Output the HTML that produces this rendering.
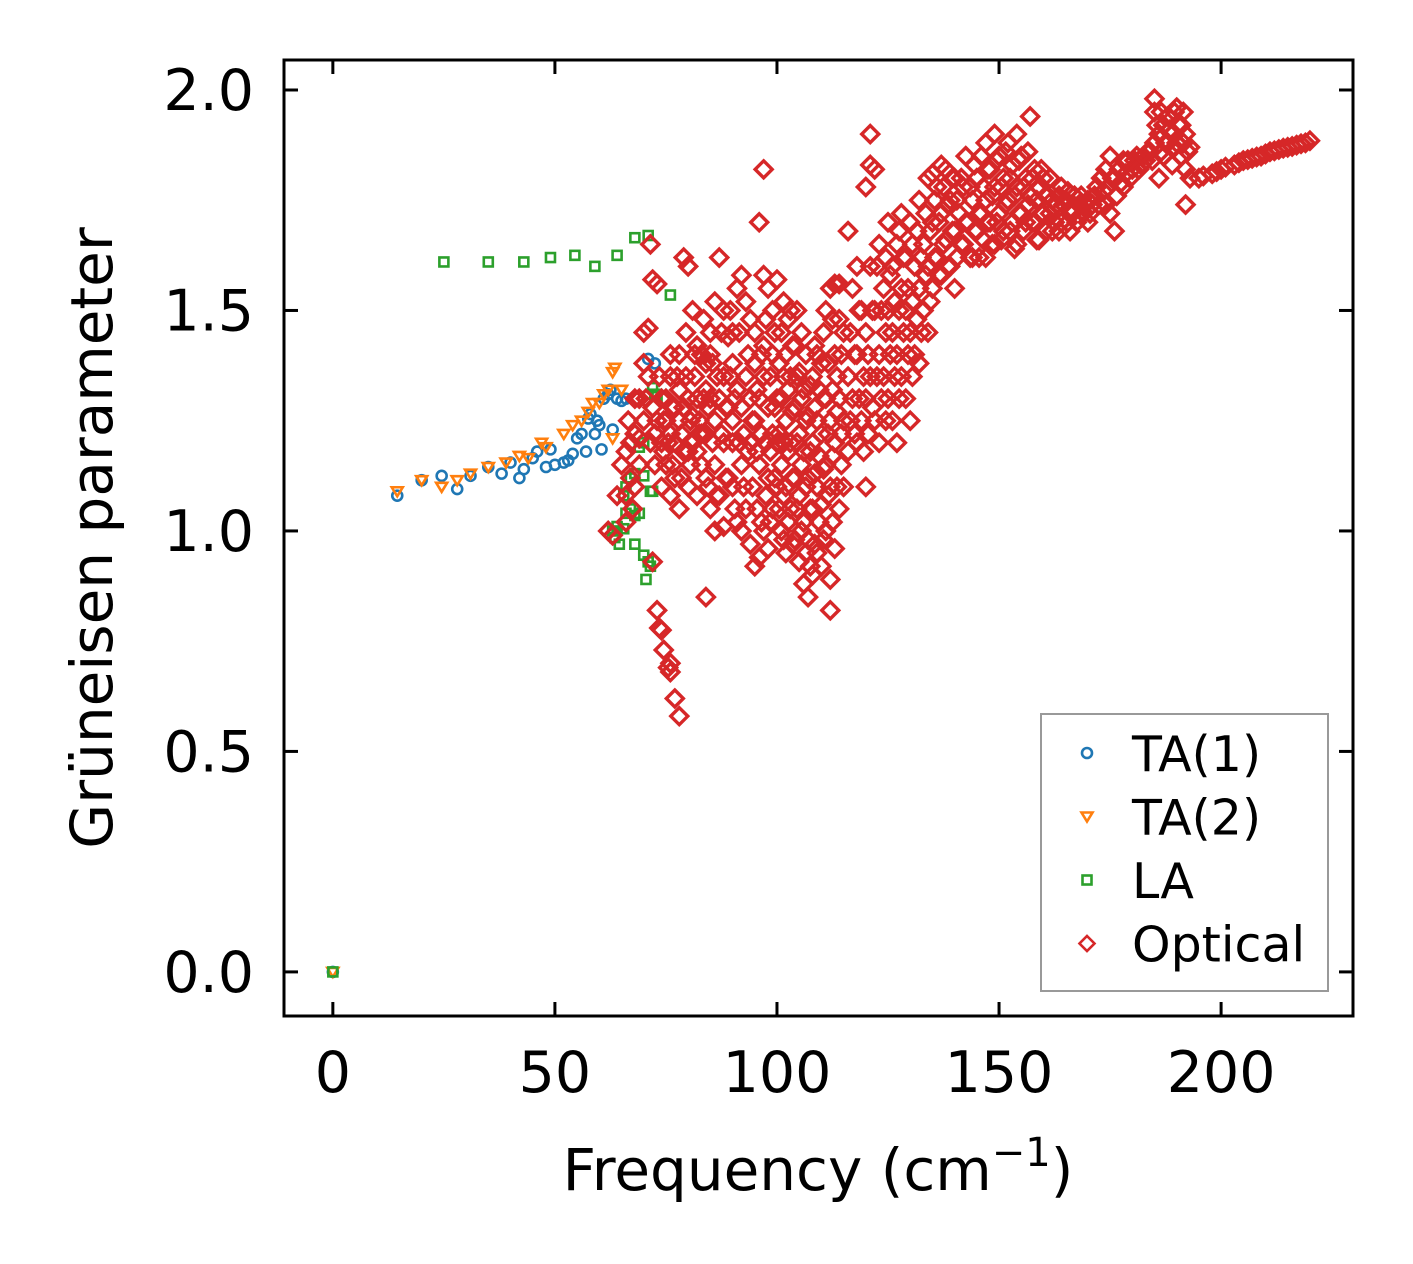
<!DOCTYPE html>
<html><head><meta charset="utf-8"><style>
body{margin:0;background:#fff}
svg{display:block;font-family:"DejaVu Sans","Liberation Sans",sans-serif}
</style></head><body>
<svg id="chart" width="1413" height="1264" viewBox="0 0 1413 1264">
<g id="marks"></g>
<rect x="284" y="60" width="1069" height="956" fill="none" stroke="#000" stroke-width="3"/>
<g id="axes"></g>
<text x="112" y="538" font-size="58" text-anchor="middle" transform="rotate(-90 112 538)">Grüneisen parameter</text>
<text x="818" y="1190" font-size="58" text-anchor="middle">Frequency (cm<tspan dy="-24" font-size="40">−1</tspan><tspan dy="24">)</tspan></text>
<g>
<rect x="1041" y="714" width="287" height="277" fill="#fff" stroke="#999" stroke-width="2"/>
<g id="legend"></g>
</g>
</svg>
<script>
const xTicks=[0,50,100,150,200];
const yTicks=[0.0,0.5,1.0,1.5,2.0];
const yTickLabels=["0.0","0.5","1.0","1.5","2.0"];
const ta1=[[0,0],[14.5,1.08],[20,1.115],[24.5,1.125],[28,1.095],[31,1.125],[35,1.145],[38,1.13],[40,1.155],[42,1.12],[43,1.14],[45,1.165],[46,1.18],[48,1.145],[49,1.185],[50,1.15],[52,1.155],[53,1.16],[54,1.175],[55,1.21],[56,1.22],[57,1.18],[57.5,1.255],[58,1.265],[59,1.22],[59.5,1.25],[60,1.24],[60.5,1.185],[61,1.3],[62,1.31],[62.5,1.32],[63,1.23],[64,1.3],[65,1.295],[66,1.3],[71,1.39],[72.5,1.38]];
const ta2=[[0,0],[14.5,1.09],[20,1.115],[24.5,1.10],[28,1.115],[31,1.13],[35,1.145],[39,1.155],[42,1.17],[44,1.165],[47,1.2],[48,1.19],[52,1.22],[54,1.24],[56,1.25],[57.5,1.27],[58.5,1.29],[60,1.29],[61,1.31],[62,1.32],[63,1.36],[63.5,1.37],[63,1.21],[65,1.32]];
const la=[[0,0],[25,1.61],[35,1.61],[43,1.61],[49,1.62],[54.5,1.625],[59,1.6],[64,1.625],[68,1.665],[71,1.67],[72.5,1.31],[73,1.305],[72,1.325],[76,1.535],[70,1.2],[69,1.19],[70,1.125],[68,1.13],[67,1.12],[66,1.1],[65.5,1.08],[66,1.04],[67,1.05],[68,1.035],[69,1.04],[64,1.01],[63,1.0],[63.5,0.985],[64.5,0.97],[65.5,1.005],[68,0.97],[70,0.945],[71,0.93],[71.5,0.92],[70.5,0.89],[71.5,1.09],[72,1.09]];
const optical=[[72,0.93],[73,0.82],[73.5,0.78],[74,0.775],[74.5,0.73],[75.5,0.69],[76,0.68],[77,0.62],[78,0.58],[76,0.7],[84,0.85],[97,1.82],[121,1.9],[192,1.74],[185,1.98],
[195,1.80],[196,1.805],[198,1.81],[199,1.815],[200,1.82],[201,1.825],[203,1.83],[204,1.835],[205,1.84],[206,1.842],[207,1.845],[208,1.848],[209,1.85],[210,1.855],[211,1.86],[212,1.862],[213,1.865],[214,1.868],[215,1.87],[216,1.872],[217,1.875],[218,1.878],[219,1.88],[220,1.885],
[62,1.0],[63,0.99],[64,1.08],[65,1.15],[66,1.18],[67,1.2],[68,1.3],[69,1.3],[70,1.25],[66,1.02],[68,1.1],[69,1.21],[70,1.45],[71,1.46],[71.5,1.65],[72,1.57],[73,1.56],[70,1.38],[71,1.35],[72,1.28],[73,1.25],[74,1.2],[75,1.3],[76,1.35],[77,1.28],[78,1.32],[79,1.62],[80,1.6],[81,1.5],[82,1.42],[83,1.4],[84,1.38],[85,1.45],[86,1.52],[87,1.62],[88,1.5],[89,1.44],[90,1.38],[91,1.55],[92,1.58],[93,1.52],[94,1.48],[95,1.45],[96,1.7],[97,1.58],[98,1.55],[99,1.5],[100,1.57],
[74,1.1],[75,1.15],[76,1.08],[77,1.12],[78,1.05],[79,1.18],[80,1.1],[81,1.2],[82,1.08],[83,1.15],[84,1.22],[85,1.05],[86,1.0],[87,1.08],[88,1.01],[89,1.12],[90,1.2],[91,1.02],[92,1.0],[93,1.05],[94,0.97],[95,0.92],[96,0.94],[97,1.0],[98,0.96],[99,1.05],[100,1.1],
[74,1.3],[75,1.25],[76,1.22],[77,1.2],[78,1.25],[79,1.28],[80,1.3],[81,1.26],[82,1.3],[83,1.22],[84,1.32],[85,1.3],[86,1.25],[87,1.3],[88,1.35],[89,1.28],[90,1.25],[91,1.32],[92,1.28],[93,1.35],[94,1.3],[95,1.25],[96,1.3],[97,1.35],[98,1.28],[99,1.22],[100,1.3],[76,1.4],[78,1.4],[80,1.18],[82,1.18],[84,1.12],[86,1.15],[88,1.2],[90,1.1],[92,1.15],[94,1.2],[96,1.15],[98,1.12],[100,1.2],[85,1.4],[90,1.45],[95,1.38],[97,1.42],[99,1.4],
[101,1.0],[101,1.15],[101,1.3],[101,1.45],[102,0.95],[102,1.1],[102,1.25],[102,1.4],[103,1.05],[103,1.2],[103,1.35],[103,1.5],[104,0.98],[104,1.12],[104,1.28],[104,1.42],[105,0.93],[105,1.08],[105,1.22],[105,1.36],[106,0.88],[106,1.02],[106,1.18],[106,1.32],[107,0.85],[107,0.98],[107,1.12],[107,1.26],[108,0.9],[108,1.05],[108,1.2],[108,1.35],[109,0.95],[109,1.1],[109,1.25],[109,1.4],[110,0.92],[110,1.06],[110,1.22],[110,1.38],[111,1.0],[111,1.15],[111,1.3],[111,1.5],[112,0.82],[112,0.89],[112,1.1],[112,1.25],[112,1.55],[113,0.96],[113,1.2],[113,1.4],[114,1.05],[114,1.3],[114,1.48],[115,1.1],[115,1.25],[115,1.45],[113,1.56],[114,1.56],
[116,1.68],[116,1.35],[116,1.18],[117,1.55],[117,1.3],[118,1.4],[118,1.2],[118,1.6],[119,1.25],[119,1.5],[120,1.1],[120,1.3],[120,1.45],[120,1.78],[121,1.83],[121,1.6],[121,1.35],[122,1.82],[122,1.5],[122,1.25],[123,1.65],[123,1.4],[123,1.2],[124,1.55],[124,1.35],[125,1.7],[125,1.5],[125,1.3],[126,1.6],[126,1.45],[126,1.25],[127,1.65],[127,1.4],[127,1.2],[128,1.55],[128,1.35],[128,1.72],[129,1.5],[129,1.3],[129,1.62],[130,1.7],[130,1.45],[130,1.25],[131,1.6],[131,1.4],[132,1.75],[132,1.55],[132,1.38],[133,1.65],[133,1.5],[134,1.8],[134,1.6],[134,1.45],[135,1.7],[135,1.55],[135,1.81],[136,1.78],[136,1.62],[137,1.72],[137,1.58],[137,1.83],[138,1.82],[138,1.66],[139,1.75],[139,1.6],[140,1.8],[140,1.68],[140,1.55],
[141,1.72],[142,1.78],[142,1.65],[143,1.7],[144,1.75],[144,1.62],[145,1.8],[145,1.68],[146,1.85],[146,1.72],[147,1.88],[147,1.75],[147,1.62],[148,1.82],[148,1.7],[149,1.9],[149,1.78],[149,1.65],[150,1.85],[150,1.72],[151,1.8],[151,1.68],[152,1.88],[152,1.75],[153,1.83],[153,1.7],[154,1.9],[154,1.78],[154,1.65],[155,1.85],[155,1.72],[156,1.8],[156,1.7],[157,1.94],[157,1.76],[158,1.82],[158,1.7],[159,1.78],[159,1.66],[160,1.8],[160,1.72],[161,1.76],[162,1.75],[162,1.68],[163,1.74],[164,1.78],[164,1.7],[165,1.75],[166,1.73],[166,1.68],[167,1.76],[168,1.74],[169,1.72],[170,1.75],[170,1.7],[171,1.74],[172,1.78],[173,1.8],[174,1.82],[174,1.74],[175,1.85],[175,1.72],[176,1.8],[176,1.68],[177,1.82],[178,1.78],[178,1.84],[179,1.84],[180,1.82],[181,1.85],[182,1.83],[183,1.84],[184,1.86],[185,1.88],[185,1.95],[186,1.9],[186,1.8],[187,1.92],[187,1.85],[188,1.94],[188,1.88],[189,1.9],[189,1.83],[190,1.96],[190,1.88],[191,1.92],[191,1.85],[192,1.9],[192,1.82],[193,1.8],[193,1.87],
[100.5,1.05],[100.5,1.22],[100.5,1.38],[101.5,0.98],[101.5,1.08],[101.5,1.2],[101.5,1.35],[101.5,1.52],[102.5,1.02],[102.5,1.18],[102.5,1.32],[102.5,1.48],[103.5,0.97],[103.5,1.12],[103.5,1.27],[103.5,1.42],[104.5,1.05],[104.5,1.2],[104.5,1.35],[104.5,1.5],[105.5,1.0],[105.5,1.15],[105.5,1.3],[105.5,1.45],[106.5,0.95],[106.5,1.1],[106.5,1.25],[106.5,1.4],[107.5,0.92],[107.5,1.05],[107.5,1.18],[107.5,1.33],[108.5,0.97],[108.5,1.13],[108.5,1.28],[108.5,1.42],[109.5,1.02],[109.5,1.17],[109.5,1.32],[110.5,0.98],[110.5,1.14],[110.5,1.3],[110.5,1.45],[111.5,1.08],[111.5,1.22],[111.5,1.38],[112.5,1.02],[112.5,1.17],[112.5,1.32],[112.5,1.48],[113.5,1.1],[113.5,1.27],[113.5,1.35],[114.5,1.15],[114.5,1.22],[114.5,1.4],
[92.5,1.1],[92.5,1.22],[93.5,1.18],[93.5,1.4],[94.5,1.1],[94.5,1.25],[95.5,1.05],[95.5,1.18],[95.5,1.32],[96.5,1.02],[96.5,1.22],[96.5,1.4],[97.5,1.08],[97.5,1.2],[97.5,1.48],[98.5,1.02],[98.5,1.18],[98.5,1.35],[99.5,1.12],[99.5,1.28],[99.5,1.45],
[116.5,1.25],[116.5,1.45],[117.5,1.22],[117.5,1.4],[118.5,1.3],[118.5,1.5],[119.5,1.35],[119.5,1.18],[120.5,1.22],[120.5,1.4],[121.5,1.28],[121.5,1.5],[122.5,1.35],[122.5,1.6],[123.5,1.3],[123.5,1.5],[124.5,1.25],[124.5,1.45],[124.5,1.62],[125.5,1.4],[125.5,1.58],[126.5,1.35],[126.5,1.52],[127.5,1.3],[127.5,1.5],[127.5,1.68],[128.5,1.45],[128.5,1.62],[129.5,1.4],[129.5,1.55],[130.5,1.35],[130.5,1.52],[130.5,1.65],[131.5,1.48],[131.5,1.68],[132.5,1.45],[132.5,1.62],[133.5,1.58],[133.5,1.72],[134.5,1.52],[134.5,1.68],[135.5,1.62],[135.5,1.75],[136.5,1.58],[136.5,1.7],[137.5,1.65],[137.5,1.78],[138.5,1.6],[138.5,1.74],[139.5,1.68],[139.5,1.8],
[140.5,1.62],[140.5,1.75],[141.5,1.65],[141.5,1.8],[142.5,1.7],[142.5,1.85],[143.5,1.62],[143.5,1.78],[144.5,1.68],[144.5,1.83],[145.5,1.72],[145.5,1.62],[146.5,1.66],[146.5,1.78],[147.5,1.7],[147.5,1.82],[148.5,1.65],[148.5,1.76],[149.5,1.7],[149.5,1.84],[150.5,1.66],[150.5,1.78],[151.5,1.74],[151.5,1.86],[152.5,1.68],[152.5,1.8],[153.5,1.76],[153.5,1.64],[154.5,1.72],[154.5,1.84],[155.5,1.68],[155.5,1.78],[156.5,1.74],[156.5,1.86],[157.5,1.7],[157.5,1.8],[158.5,1.75],[158.5,1.66],[159.5,1.72],[159.5,1.82],[160.5,1.68],[160.5,1.76],[161.5,1.72],[161.5,1.8],[162.5,1.7],[163.5,1.68],[163.5,1.76],[164.5,1.74],[165.5,1.7],[165.5,1.77],[166.5,1.72],[167.5,1.7],[168.5,1.76],[169.5,1.74],
[170.5,1.72],[171.5,1.76],[172.5,1.74],[173.5,1.77],[174.5,1.78],[175.5,1.8],[176.5,1.76],[177.5,1.79],[178.5,1.81],[179.5,1.8],[180.5,1.84],[181.5,1.82],[182.5,1.85],[183.5,1.86],[184.5,1.84],[185.5,1.92],[186.5,1.86],[186.5,1.95],[187.5,1.88],[188.5,1.91],[189.5,1.87],[189.5,1.95],[190.5,1.92],[191.5,1.88],[191.5,1.95],[192.5,1.86],
[70.5,1.3],[71.5,1.2],[72.5,1.22],[73.5,1.35],[74.5,1.25],[75.5,1.2],[76.5,1.28],[77.5,1.35],[78.5,1.22],[79.5,1.35],[80.5,1.25],[81.5,1.35],[82.5,1.25],[83.5,1.3],[84.5,1.28],[85.5,1.2],[86.5,1.35],[87.5,1.22],[88.5,1.28],[89.5,1.35],[90.5,1.3],[91.5,1.2],[72.5,1.15],[74.5,1.18],[76.5,1.15],[78.5,1.12],[80.5,1.15],[82.5,1.22],[84.5,1.1],[86.5,1.08],[88.5,1.12],[90.5,1.05],[79.5,1.45],[81.5,1.4],[83.5,1.48],[85.5,1.38],[87.5,1.45],[89.5,1.5],[91.5,1.45],[66,1.08],[67,1.12],[68,1.22],[69,1.15],[66.5,1.25],[67.5,1.05]];

const NS="http://www.w3.org/2000/svg";
const X0=284,X1=1353,Y0=60,Y1=1016,xmin=-11,xmax=229.7,ymin=-0.1,ymax=2.068;
function sx(v){return X0+(v-xmin)/(xmax-xmin)*(X1-X0);}
function sy(v){return Y1-(v-ymin)/(ymax-ymin)*(Y1-Y0);}
function mk(tag,attrs,parent){const e=document.createElementNS(NS,tag);for(const k in attrs)e.setAttribute(k,attrs[k]);parent.appendChild(e);return e;}
function marker(kind,x,y,color,parent,sw){
  let e;
  const d=sw>3?8.5:7.5;
  if(kind==="circle")e=mk("circle",{cx:x,cy:y,r:5},parent);
  else if(kind==="tri")e=mk("polygon",{points:`${x-5.5},${y-4} ${x+5.5},${y-4} ${x},${y+5}`},parent);
  else if(kind==="square")e=mk("rect",{x:x-4.5,y:y-4.5,width:9,height:9},parent);
  else e=mk("polygon",{points:`${x},${y-d} ${x+d},${y} ${x},${y+d} ${x-d},${y}`},parent);
  e.setAttribute("fill","none");e.setAttribute("stroke",color);e.setAttribute("stroke-width",String(sw));
  return e;
}
const marks=document.getElementById("marks");
const series=[["ta1",ta1,"circle","#1f77b4"],["ta2",ta2,"tri","#ff7f0e"],["la",la,"square","#2ca02c"],["optical",optical,"diamond","#d62728"]];
series.forEach(s=>{
  const g=mk("g",{},marks);
  
  
  const sw=s[0]==="optical"?3.4:2.6;
  s[1].forEach(p=>{
    const m=marker(s[2],sx(p[0]),sy(p[1]),s[3],g,sw);
    
    
  });
});
const axes=document.getElementById("axes");
xTicks.forEach(t=>{
  const x=sx(t);
  const a=mk("line",{x1:x,x2:x,y1:Y1,y2:Y1-14,stroke:"#000","stroke-width":3},axes);
  
  
  const b=mk("line",{x1:x,x2:x,y1:Y0,y2:Y0+14,stroke:"#000","stroke-width":3},axes);
  
  
  const l=mk("text",{x:x,y:1092,"font-size":57,"text-anchor":"middle"},axes);
  l.textContent=String(t);
  
  
});
yTicks.forEach((t,i)=>{
  const y=sy(t);
  const a=mk("line",{x1:X0,x2:X0+14,y1:y,y2:y,stroke:"#000","stroke-width":3},axes);
  
  
  const b=mk("line",{x1:X1,x2:X1-14,y1:y,y2:y,stroke:"#000","stroke-width":3},axes);
  
  
  const l=mk("text",{x:254,y:y+20,"font-size":57,"text-anchor":"end"},axes);
  l.textContent=yTickLabels[i];
  
  
});
const legend=document.getElementById("legend");
const legendLabels=["TA(1)","TA(2)","LA","Optical"];
series.forEach((s,i)=>{
  const y=753+i*63.5;
  const g=mk("g",{},legend);
  
  
  marker(s[2],1087,y,s[3],g,2.6);
  const t=mk("text",{x:1132,y:y+18,"font-size":49},g);
  t.textContent=legendLabels[i];
});
</script>
</body></html>
